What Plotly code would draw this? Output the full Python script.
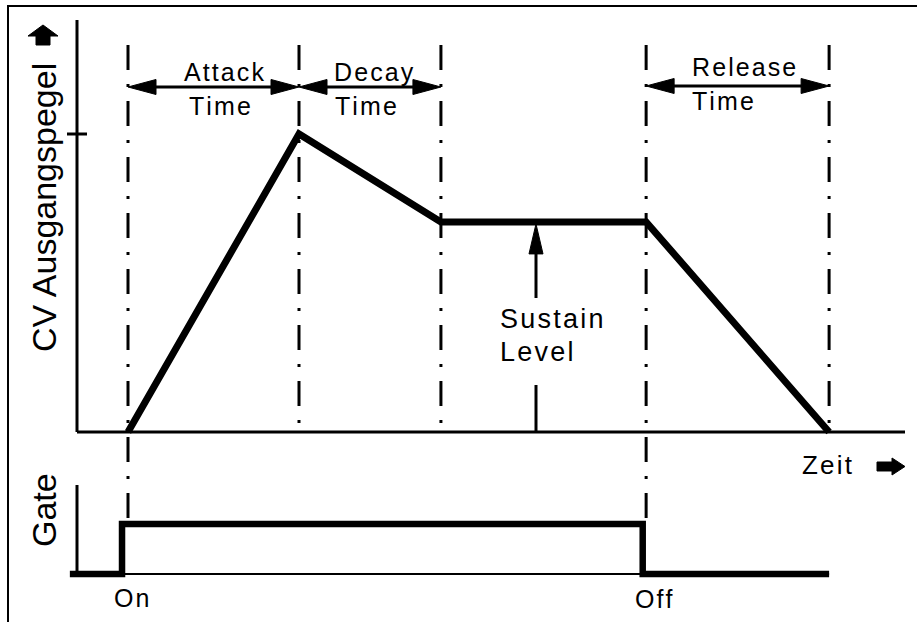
import plotly.graph_objects as go

# ---------------- data ----------------
event_labels = ["On", "Attack end", "Decay end", "Off", "Release end"]
event_times = [0.0, 1.0, 1.83, 3.03, 4.10]          # time units
cv_levels = [0.0, 1.0, 0.705, 0.705, 0.0]           # CV output level
gate_times = [-0.34, -0.035, -0.035, 3.01, 3.01, 4.10]
gate_levels = [0, 0, 1, 1, 0, 0]
phase_names = ["Attack", "Decay", "Release"]
phase_spans = [(0, 1), (1, 2), (3, 4)]               # indices into event_times
y_title = "CV Ausgangspegel"
gate_title = "Gate"
x_title = "Zeit"
sustain_label = ["Sustain", "Level"]
time_word = "Time"

# ---------------- layout geometry (pixels) ----------------
W, H = 917, 622
T0_PX, PX_PER_T = 128.0, 171.0      # time 0 at x=128 px
L0_PX, PX_PER_L = 432.0, 298.0      # level 0 at y=432 px
G0_PX, PX_PER_G = 574.0, 50.0       # gate 0 at y=574 px

def tpx(t):
    return T0_PX + PX_PER_T * t

def lpx(v):
    return L0_PX - PX_PER_L * v

def fx(px):
    return px / W

def fy(py):
    return 1 - py / H

FONT = "Liberation Sans, Arial, Helvetica, sans-serif"
HS = "\u200a"

def spaced(s):
    return HS.join(list(s))

fig = go.Figure()
fig.add_trace(go.Scatter(x=event_times, y=cv_levels, mode="lines",
                         line=dict(color="black", width=7), hoverinfo="skip",
                         showlegend=False))
fig.add_trace(go.Scatter(x=gate_times, y=gate_levels, mode="lines", yaxis="y2",
                         line=dict(color="black", width=6.5), hoverinfo="skip",
                         showlegend=False))

shapes = []

def pline(x0, y0, x1, y1, w=3, dash=None):
    d = dict(type="line", xref="paper", yref="paper",
             x0=fx(x0), y0=fy(y0), x1=fx(x1), y1=fy(y1),
             line=dict(color="black", width=w))
    if dash:
        d["line"]["dash"] = dash
    shapes.append(d)

def ppath(pts):
    p = "M " + " L ".join(f"{fx(x):.5f},{fy(y):.5f}" for x, y in pts) + " Z"
    shapes.append(dict(type="path", xref="paper", yref="paper", path=p,
                       fillcolor="black", line=dict(color="black", width=1)))

# frame (left + top)
pline(8, 6, 8, H + 5, w=2)
pline(7, 6, W + 5, 6, w=2)

# CV axes
pline(77, 20, 77, lpx(0), w=3)
pline(77, lpx(0), 905, lpx(0), w=3)
pline(67, lpx(max(cv_levels)), 87, lpx(max(cv_levels)), w=3)

# Gate axes
pline(77, 485, 77, G0_PX, w=3)
pline(77, G0_PX, tpx(gate_times[-1]), G0_PX, w=2)

# dash-dot event lines
DASH = "25px,14px,3px,14px"
for lab, t in zip(event_labels, event_times):
    bottom = 522 if lab in ("On", "Off") else lpx(0)
    pline(tpx(t), 45, tpx(t), bottom, w=3, dash=DASH)

# phase double arrows
arrow_y = [87, 87, 86]
HEAD_L, HEAD_H = 28, 7.5
for (a, b), ay in zip(phase_spans, arrow_y):
    xa, xb = tpx(event_times[a]), tpx(event_times[b])
    pline(xa + 10, ay, xb - 10, ay, w=3)
    ppath([(xa, ay), (xa + HEAD_L, ay - HEAD_H), (xa + HEAD_L, ay + HEAD_H)])
    ppath([(xb, ay), (xb - HEAD_L, ay - HEAD_H), (xb - HEAD_L, ay + HEAD_H)])

# sustain level arrow
sx = 536
sy = lpx(cv_levels[2])
pline(sx, 298, sx, sy + 25, w=3)
ppath([(sx, sy + 2), (sx - 7, sy + 32), (sx + 7, sy + 32)])
pline(sx, 385, sx, lpx(0), w=3)

# up arrow next to y title
ppath([(43, 25), (58, 36), (50, 36), (50, 45), (36, 45), (36, 36), (28, 36)])
# right arrow after x title
ppath([(877, 462), (892, 462), (892, 458), (905, 466.5), (892, 475), (892, 471), (877, 471)])

annotations = []

def txt(s, x, y, size=25, anchor="left", angle=0):
    annotations.append(dict(text=s, x=fx(x), y=fy(y), xref="paper", yref="paper",
                            showarrow=False, xanchor=anchor, yanchor="middle",
                            textangle=angle,
                            font=dict(family=FONT, size=size, color="black")))

# phase labels
name_pos = [(182, 72), (332, 72), (690, 67)]
time_pos = [(187, 106), (333, 106), (690, 101)]
for n, (nx, ny), (tx_, ty_) in zip(phase_names, name_pos, time_pos):
    txt(spaced(n), nx, ny)
    txt(spaced(time_word), tx_, ty_)

txt(spaced(sustain_label[0]), 498, 319, size=27)
txt(spaced(sustain_label[1]), 498, 352, size=27)
txt(spaced(x_title), 800, 465, size=26)
txt(spaced("On"), 131, 598, size=25, anchor="center")
txt(spaced("Off"), 633, 599, size=25)
txt(y_title, 44, 208, size=34, anchor="center", angle=-90)
txt(gate_title, 44, 510, size=34, anchor="center", angle=-90)

x_rng = [(0 - T0_PX) / PX_PER_T, (W - T0_PX) / PX_PER_T]
y_rng = [(L0_PX - H) / PX_PER_L, L0_PX / PX_PER_L]
g_rng = [(G0_PX - H) / PX_PER_G, G0_PX / PX_PER_G]

fig.update_layout(
    width=W, height=H,
    margin=dict(l=0, r=0, t=0, b=0, pad=0),
    paper_bgcolor="white", plot_bgcolor="white",
    xaxis=dict(range=x_rng, visible=False, fixedrange=True),
    yaxis=dict(range=y_rng, visible=False, fixedrange=True),
    yaxis2=dict(range=g_rng, visible=False, fixedrange=True, overlaying="y"),
    shapes=shapes, annotations=annotations, showlegend=False,
)

fig.write_html("out.html", config={"displayModeBar": False},
               post_script="document.body.style.margin='0';document.body.style.overflow='hidden';")
